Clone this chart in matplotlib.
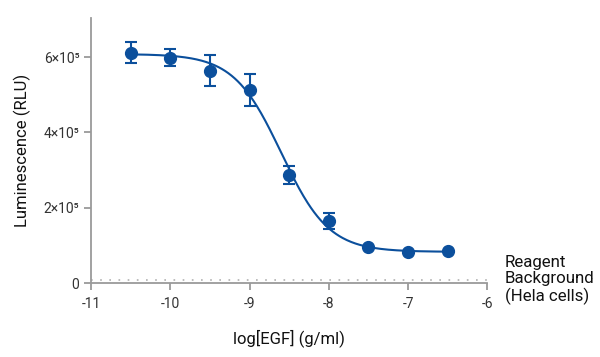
import numpy as np
import matplotlib
matplotlib.use("Agg")
import matplotlib.pyplot as plt

plt.rcParams['font.family'] = ['Roboto', 'DejaVu Sans']

# data
log_egf = [-10.5, -10.0, -9.5, -9.0, -8.5, -8.0, -7.5, -7.0, -6.5]
rlu = [6.12e5, 5.98e5, 5.64e5, 5.13e5, 2.87e5, 1.65e5, 0.96e5, 0.82e5, 0.84e5]
rlu_err = [0.29e5, 0.23e5, 0.41e5, 0.43e5, 0.23e5, 0.22e5, 0.0, 0.0, 0.0]
background = 0.08e5

# 4PL fit parameters
fit_top = 6.08e5
fit_bottom = 0.83e5
fit_logec50 = -8.6
fit_hill = 1.45

xticks = [-11, -10, -9, -8, -7, -6]
yticks = [0, 2e5, 4e5, 6e5]
ytick_labels = ['0', '2×10⁵', '4×10⁵', '6×10⁵']

blue = '#0b4f9c'
grey = '#9a9a9a'

fig = plt.figure(figsize=(6, 3.57), dpi=100)
ax = fig.add_axes([0.152, 0.207, 0.66, 0.743])

xf = np.linspace(-10.5, -6.5, 300)
yf = fit_bottom + (fit_top - fit_bottom) / (1 + 10 ** ((xf - fit_logec50) * fit_hill))
ax.plot(xf, yf, color=blue, lw=1.5, zorder=3)

ax.errorbar(log_egf, rlu, yerr=rlu_err, fmt='o', color=blue, ms=8.5,
            capsize=4.5, elinewidth=1.5, capthick=1.5, zorder=4)

# reagent background line
ax.plot([-11, -6], [background, background], color='#b0b0b0', lw=1.2,
        linestyle=(0, (1, 4.5)), zorder=2)
ax.text(-5.78, background, 'Reagent\nBackground\n(Hela cells)', fontsize=12.2,
        va='center', ha='left', color='#111111', linespacing=1.08,
        clip_on=False)

ax.set_xlim(-11, -6)
ax.set_ylim(0, 7.04e5)
ax.set_xticks(xticks)
ax.set_xticklabels([str(t) for t in xticks])
ax.set_yticks(yticks)
ax.set_yticklabels(ytick_labels)

for s in ['top', 'right']:
    ax.spines[s].set_visible(False)
for s in ['left', 'bottom']:
    ax.spines[s].set_color(grey)
    ax.spines[s].set_linewidth(1.3)
ax.tick_params(colors=grey, labelcolor='#333333', length=5, width=1.3,
               labelsize=10)
ax.tick_params(axis='x', pad=5)

ax.set_xlabel('log[EGF] (g/ml)', fontsize=12, color='#111111', labelpad=13)
ax.set_ylabel('Luminescence (RLU)', fontsize=12, color='#111111', labelpad=9)

fig.savefig('out.png', dpi=100)
